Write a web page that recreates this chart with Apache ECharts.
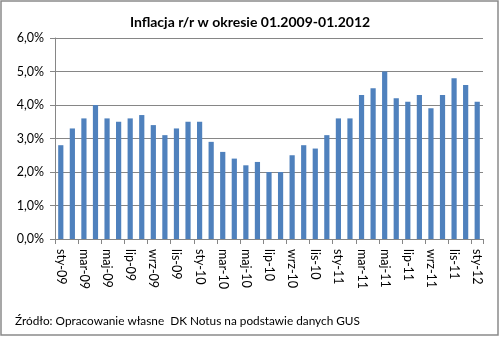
<!DOCTYPE html>
<html>
<head>
<meta charset="utf-8">
<script src="https://cdn.jsdelivr.net/npm/echarts@6/dist/echarts.min.js"></script>
<style>
  html, body { margin: 0; padding: 0; background: #fff; }
  #chart { width: 500px; height: 337px; }
</style>
</head>
<body>
<div id="chart"></div>
<script>
// Monthly CPI y/y, January 2009 – January 2012
const monthNames = ['sty', 'lut', 'mar', 'kwi', 'maj', 'cze', 'lip', 'sie', 'wrz', 'paź', 'lis', 'gru'];
const years = ['09', '10', '11', '12'];
const inflation2009 = [2.8, 3.3, 3.6, 4.0, 3.6, 3.5, 3.6, 3.7, 3.4, 3.1, 3.3, 3.5];
const inflation2010 = [3.5, 2.9, 2.6, 2.4, 2.2, 2.3, 2.0, 2.0, 2.5, 2.8, 2.7, 3.1];
const inflation2011 = [3.6, 3.6, 4.3, 4.5, 5.0, 4.2, 4.1, 4.3, 3.9, 4.3, 4.8, 4.6];
const inflation2012 = [4.1];

const seriesByYear = [inflation2009, inflation2010, inflation2011, inflation2012];
const categories = [];
const values = [];
seriesByYear.forEach((arr, yi) => {
  arr.forEach((v, mi) => {
    categories.push(monthNames[mi] + '-' + years[yi]);
    values.push(v);
  });
});

const fontFamily = 'Lato, "Open Sans", sans-serif';
const chart = echarts.init(document.getElementById('chart'), null, { renderer: 'canvas' });
chart.setOption({
  animation: false,
  backgroundColor: '#ffffff',
  textStyle: { fontFamily },
  title: {
    text: 'Inflacja r/r w okresie 01.2009-01.2012',
    left: 'center',
    top: 10,
    textStyle: { fontFamily, fontSize: 14, fontWeight: 'bold', color: '#000' }
  },
  graphic: [
    {
      type: 'rect',
      shape: { x: 1, y: 1, width: 497, height: 334 },
      style: { fill: 'none', stroke: '#8a8a8a', lineWidth: 1.5 },
      silent: true
    },
    {
      type: 'text',
      left: 15,
      top: 315,
      style: {
        text: 'Źródło: Opracowanie własne  DK Notus na podstawie danych GUS',
        font: '11.8px ' + fontFamily,
        fill: '#000'
      }
    }
  ],
  grid: { left: 55, right: 17, top: 38, bottom: 98, containLabel: false },
  xAxis: {
    type: 'category',
    data: categories,
    boundaryGap: true,
    axisLine: { lineStyle: { color: '#868686', width: 1 } },
    axisTick: { show: true, interval: 1, length: 5, lineStyle: { color: '#868686' } },
    axisLabel: {
      interval: 1,
      rotate: -90,
      fontSize: 12.5,
      color: '#000',
      fontFamily,
      margin: 10
    }
  },
  yAxis: {
    type: 'value',
    min: 0,
    max: 6,
    interval: 1,
    axisLine: { show: true, lineStyle: { color: '#868686', width: 1 } },
    axisTick: { show: true, length: 5, lineStyle: { color: '#868686' } },
    splitLine: { show: true, lineStyle: { color: '#868686', width: 1 } },
    axisLabel: {
      fontSize: 12.5,
      color: '#000',
      fontFamily,
      margin: 11,
      formatter: v => v.toFixed(1).replace('.', ',') + '%'
    }
  },
  series: [{
    type: 'bar',
    data: values,
    barCategoryGap: '55%',
    itemStyle: { color: '#4f81bd' }
  }]
});
</script>
</body>
</html>
